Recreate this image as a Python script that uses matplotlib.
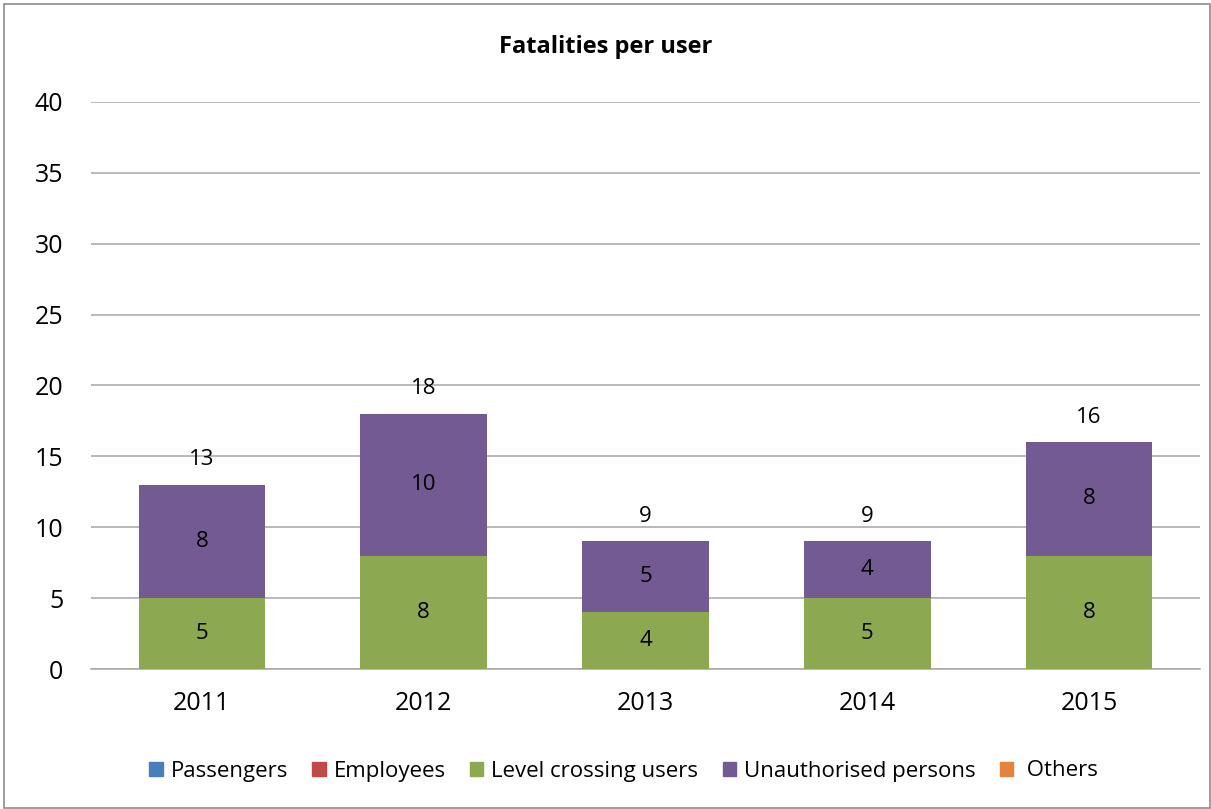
import matplotlib.pyplot as plt
import matplotlib.patches as mpatches
import numpy as np

plt.rcParams['font.family'] = ['Open Sans', 'DejaVu Sans']

years = ["2011", "2012", "2013", "2014", "2015"]
passengers = [0, 0, 0, 0, 0]
employees = [0, 0, 0, 0, 0]
level_crossing = [5, 8, 4, 5, 8]
unauthorised = [8, 10, 5, 4, 8]
others = [0, 0, 0, 0, 0]

series = [
    ("Passengers", passengers, "#4A7EBB"),
    ("Employees", employees, "#BE4B48"),
    ("Level crossing users", level_crossing, "#8CA850"),
    ("Unauthorised persons", unauthorised, "#735A92"),
    ("Others", others, "#E2843C"),
]

fig = plt.figure(figsize=(12.11, 8.09), dpi=100)
ax = fig.add_axes([0.0751, 0.173, 0.9159, 0.701])

x = np.arange(len(years))
bottom = np.zeros(len(years))
for name, vals, col in series:
    vals = np.array(vals, dtype=float)
    bars = ax.bar(x, vals, 0.57, bottom=bottom, color=col, label=name, zorder=3)
    for b, v in zip(bars, vals):
        if v > 0:
            ax.text(b.get_x() + b.get_width() / 2, b.get_y() + v / 2, f"{int(v)}",
                    ha="center", va="center", fontsize=16, zorder=4)
    bottom += vals

# totals above the bars
for xi, tot in zip(x, bottom):
    ax.annotate(f"{int(tot)}", (xi, tot), xytext=(0, 18), textcoords="offset points",
                ha="center", va="center", fontsize=16)

ax.set_xlim(-0.5, len(years) - 0.5)
ax.set_ylim(0, 40)
ax.set_yticks(range(0, 41, 5))
ax.set_xticks(x)
ax.set_xticklabels(years)
ax.tick_params(axis="both", length=0, labelsize=18)
ax.tick_params(axis="y", pad=20)
ax.tick_params(axis="x", pad=16)
ax.yaxis.grid(True, color="#A6A6A6", linewidth=1.1, zorder=0)
for s in ["left", "right", "top"]:
    ax.spines[s].set_visible(False)
ax.spines["bottom"].set_color("#A6A6A6")
ax.spines["bottom"].set_linewidth(1.1)

fig.text(0.5, 1 - 47 / 809, "Fatalities per user", ha="center", va="center",
         fontsize=17, fontweight="bold")

handles = [mpatches.Patch(color=c, label=n) for n, _, c in series]
labels = ["Passengers", "Employees", "Level crossing users", "Unauthorised persons", " Others"]
fig.legend(handles=handles, labels=labels, loc="center", bbox_to_anchor=(0.515, 1 - 771 / 809),
           ncol=5, frameon=False, fontsize=16, handlelength=0.6, handleheight=0.6,
           handletextpad=0.35, columnspacing=1.1)

fig.patches.append(mpatches.Rectangle((4 / 1211, 1 / 809), 1 - 5 / 1211, 1 - 5 / 809,
                                      transform=fig.transFigure, fill=False,
                                      edgecolor="#8C8C8C", linewidth=1.2))

fig.savefig("out.png", dpi=100)
